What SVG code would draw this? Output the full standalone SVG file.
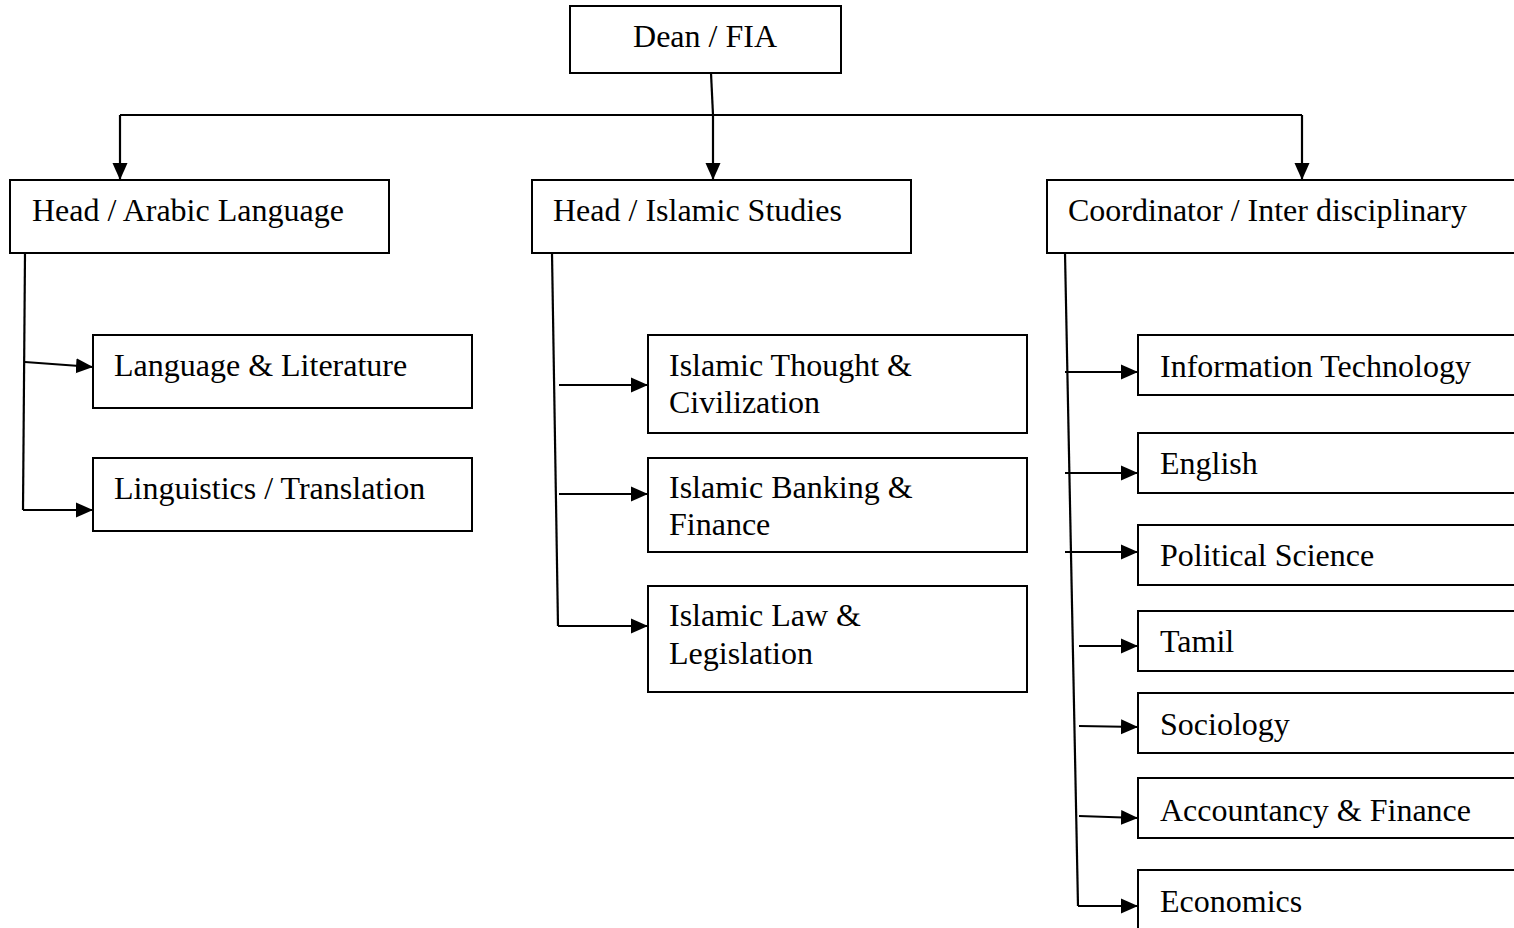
<svg xmlns="http://www.w3.org/2000/svg" width="1514" height="928" viewBox="0 0 1514 928">
<style>
.box{fill:#fff;stroke:#000;stroke-width:2}
.t{font-family:"Liberation Serif","Times New Roman",serif;font-size:32px;fill:#000}
.c{fill:none;stroke:#000;stroke-width:2.2}
</style>
<defs>
<marker id="ah" markerUnits="userSpaceOnUse" markerWidth="18" markerHeight="16" refX="17" refY="8" orient="auto">
<path d="M0,0.5 L17,8 L0,15.5 z" fill="#000"/>
</marker>
</defs>
<rect width="1514" height="928" fill="#fff"/>
<g id="connectors">
<path class="c" d="M711,73 L713,115"/>
<path class="c" d="M120,115 L1302,115"/>
<path class="c" d="M713,115 L713,180" marker-end="url(#ah)"/>
<path class="c" d="M120,115 L120,180" marker-end="url(#ah)"/>
<path class="c" d="M1302,115 L1302,180" marker-end="url(#ah)"/>
<path class="c" d="M25,253 L23,510"/>
<path class="c" d="M25,362 L93,367" marker-end="url(#ah)"/>
<path class="c" d="M23,510 L93,510" marker-end="url(#ah)"/>
<path class="c" d="M552,253 L558,626"/>
<path class="c" d="M559,385 L648,385" marker-end="url(#ah)"/>
<path class="c" d="M559,494 L648,494" marker-end="url(#ah)"/>
<path class="c" d="M558,626 L648,626" marker-end="url(#ah)"/>
<path class="c" d="M1065,253 L1078,906"/>
<path class="c" d="M1065,372 L1138,372" marker-end="url(#ah)"/>
<path class="c" d="M1065,473 L1138,473" marker-end="url(#ah)"/>
<path class="c" d="M1065,552 L1138,552" marker-end="url(#ah)"/>
<path class="c" d="M1079,646 L1138,646" marker-end="url(#ah)"/>
<path class="c" d="M1079,726 L1138,727" marker-end="url(#ah)"/>
<path class="c" d="M1079,816 L1138,818" marker-end="url(#ah)"/>
<path class="c" d="M1078,906 L1138,906" marker-end="url(#ah)"/>
</g>
<g id="dean"><rect class="box" x="570" y="6" width="271" height="67"/><text class="t" x="705" y="47" text-anchor="middle">Dean / FIA</text></g>
<g id="head-arabic"><rect class="box" x="10" y="180" width="379" height="73"/><text class="t" x="32" y="221">Head / Arabic Language</text></g>
<g id="head-islamic"><rect class="box" x="532" y="180" width="379" height="73"/><text class="t" x="553" y="221">Head / Islamic Studies</text></g>
<g id="coordinator"><rect class="box" x="1047" y="180" width="480" height="73"/><text class="t" x="1068" y="221">Coordinator / Inter disciplinary</text></g>
<g id="lang-lit"><rect class="box" x="93" y="335" width="379" height="73"/><text class="t" x="114" y="376">Language &amp; Literature</text></g>
<g id="linguistics"><rect class="box" x="93" y="458" width="379" height="73"/><text class="t" x="114" y="499">Linguistics / Translation</text></g>
<g id="thought"><rect class="box" x="648" y="335" width="379" height="98"/><text class="t" x="669" y="376">Islamic Thought &amp;</text><text class="t" x="669" y="413">Civilization</text></g>
<g id="banking"><rect class="box" x="648" y="458" width="379" height="94"/><text class="t" x="669" y="498">Islamic Banking &amp;</text><text class="t" x="669" y="535">Finance</text></g>
<g id="law"><rect class="box" x="648" y="586" width="379" height="106"/><text class="t" x="669" y="626">Islamic Law &amp;</text><text class="t" x="669" y="664">Legislation</text></g>
<g id="it"><rect class="box" x="1138" y="335" width="400" height="60"/><text class="t" x="1160" y="377">Information Technology</text></g>
<g id="english"><rect class="box" x="1138" y="433" width="400" height="60"/><text class="t" x="1160" y="474">English</text></g>
<g id="polsci"><rect class="box" x="1138" y="525" width="400" height="60"/><text class="t" x="1160" y="566">Political Science</text></g>
<g id="tamil"><rect class="box" x="1138" y="611" width="400" height="60"/><text class="t" x="1160" y="652">Tamil</text></g>
<g id="sociology"><rect class="box" x="1138" y="693" width="400" height="60"/><text class="t" x="1160" y="735">Sociology</text></g>
<g id="accountancy"><rect class="box" x="1138" y="778" width="400" height="60"/><text class="t" x="1160" y="821">Accountancy &amp; Finance</text></g>
<g id="economics"><rect class="box" x="1138" y="870" width="400" height="80"/><text class="t" x="1160" y="912">Economics</text></g>
</svg>
